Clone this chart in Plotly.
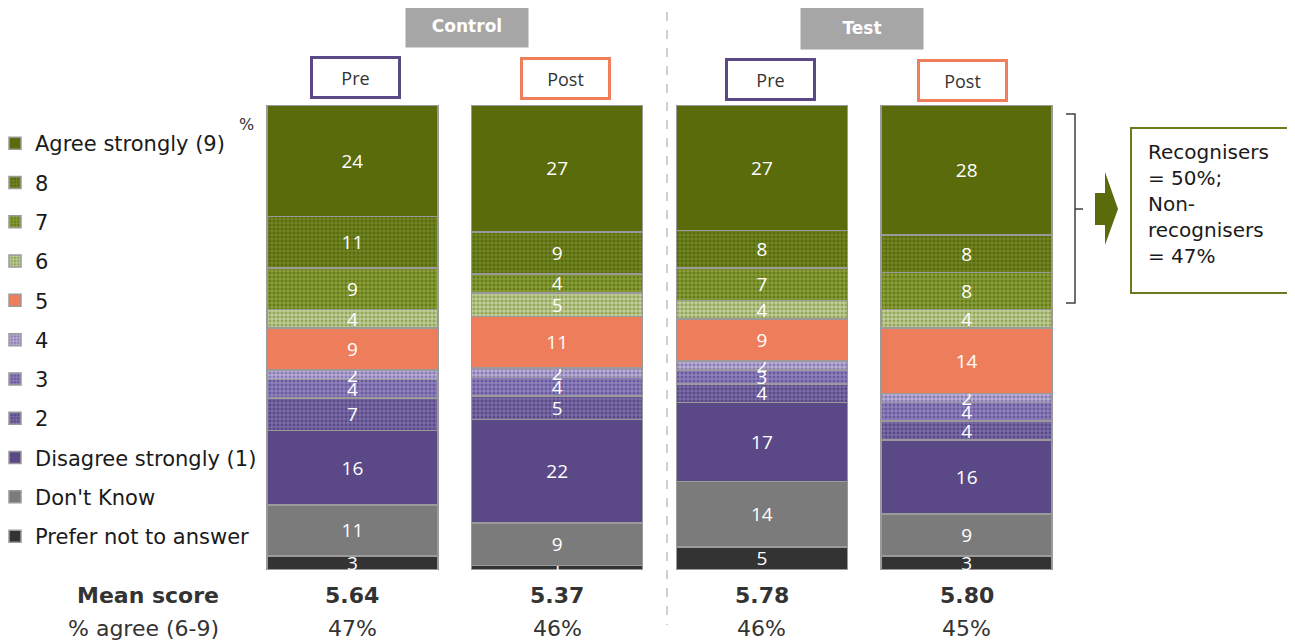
import plotly.graph_objects as go

# categories, bottom of the stack first
answers = ["Prefer not to answer", "Don't Know", "Disagree strongly (1)", "2", "3", "4",
           "5", "6", "7", "8", "Agree strongly (9)"]
groups = ["Control Pre", "Control Post", "Test Pre", "Test Post"]

control_pre = [3, 11, 16, 7, 4, 2, 9, 4, 9, 11, 24]
control_post = [1, 9, 22, 5, 4, 2, 11, 5, 4, 9, 27]
test_pre = [5, 14, 17, 4, 3, 2, 9, 4, 7, 8, 27]
test_post = [3, 9, 16, 4, 4, 2, 14, 4, 8, 8, 28]

mean_scores = ["5.64", "5.37", "5.78", "5.80"]
pct_agree = ["47%", "46%", "46%", "45%"]
stage_labels = ["Pre", "Post", "Pre", "Post"]
arm_labels = ["Control", "Test"]
callout = "Recognisers<br>= 50%;<br>Non-<br>recognisers<br>= 47%"

# (base colour, grid colour or None)
styles = [
    ("#333333", None),
    ("#7b7b7b", None),
    ("#5b4886", None),
    ("#5a4a8a", "#8f82b8"),
    ("#6a5a9e", "#a597cc"),
    ("#8a7cb4", "#d4cde8"),
    ("#ee7d5b", None),
    ("#93a65a", "#dbe4bf"),
    ("#667c17", "#9db24f"),
    ("#586b0b", "#7f9232"),
    ("#596b0b", None),
]

# the page puts the figure 8px in from the top-left corner
W, H, OFF = 1295, 640, 8
L, R, T, B = 242, 234, 97, 78


def px(xs):
    return (xs - OFF - L) / (W - L - R)


def py(ys):
    return (H - B - (ys - OFF)) / (H - T - B)


series = list(zip(control_pre, control_post, test_pre, test_post))
fig = go.Figure()
for k, name in enumerate(answers):
    vals = [series[k][g] for g in range(4)]
    base, grid = styles[k]
    marker = dict(color=base, line=dict(color="#9a9a9a", width=1.5))
    if grid:
        marker["pattern"] = dict(shape="+", size=4, solidity=0.35,
                                 fgcolor=grid, bgcolor=base, fillmode="replace")
    fig.add_trace(go.Bar(
        x=list(range(4)), y=vals, name=name, legendgroup=name,
        legendrank=len(answers) - k,
        marker=marker, text=[str(v) for v in vals], texttemplate="%{text}",
        textposition="inside", insidetextanchor="middle", textangle=0,
        textfont=dict(color="white", family="Open Sans", size=19),
        hoverinfo="skip", cliponaxis=False,
    ))

ann = []
ctr = dict(xanchor="center", yanchor="middle", showarrow=False)
# arm headers
for lbl, cx, cy in zip(arm_labels, [467, 862], [26, 28]):
    ann.append(dict(x=px(cx), y=py(cy), xref="paper", yref="paper", text="<b>%s</b>" % lbl,
                    bgcolor="#a6a6a6", width=122, height=42, borderpad=0,
                    font=dict(family="DejaVu Sans", size=17, color="white"), **ctr))
# pre / post boxes
for lbl, cx, cy in zip(stage_labels, [355.5, 565.5, 770.5, 962.5], [77.5, 78.5, 79, 80]):
    col = "#5b4886" if lbl == "Pre" else "#ef7f5c"
    ann.append(dict(x=px(cx), y=py(cy), xref="paper", yref="paper", text=lbl,
                    bgcolor="white", bordercolor=col, borderwidth=3,
                    borderpad=1, width=83, height=35,
                    font=dict(family="Open Sans", size=18, color="#333333"), **ctr))
# bottom rows
ann.append(dict(x=px(221), y=py(595), xref="paper", yref="paper", xanchor="right",
                yanchor="middle", text="<b>Mean score</b>", showarrow=False,
                font=dict(family="DejaVu Sans", size=22, color="#333333")))
ann.append(dict(x=px(221), y=py(628), xref="paper", yref="paper", xanchor="right",
                yanchor="middle", text="% agree (6-9)", showarrow=False,
                font=dict(family="DejaVu Sans", size=22, color="#333333")))
for i in range(4):
    ann.append(dict(x=i, y=py(595), xref="x", yref="paper", text="<b>%s</b>" % mean_scores[i],
                    font=dict(family="DejaVu Sans", size=22, color="#333333"), **ctr))
    ann.append(dict(x=i, y=py(628), xref="x", yref="paper", text=pct_agree[i],
                    font=dict(family="DejaVu Sans", size=22, color="#333333"), **ctr))
# percent sign
ann.append(dict(x=px(246), y=py(125), xref="paper", yref="paper", text="%",
                font=dict(family="DejaVu Sans", size=16, color="#333333"), **ctr))
# callout text
ann.append(dict(x=px(1146), y=py(138), xref="paper", yref="paper", xanchor="left", yanchor="top",
                text=callout, showarrow=False, align="left",
                font=dict(family="DejaVu Sans", size=20, color="#1a1a1a")))

shapes = [
    dict(type="line", xref="paper", yref="paper", x0=px(667), x1=px(667), y0=py(12), y1=py(625),
         line=dict(color="#a0a0a0", width=1, dash="dash")),
    dict(type="path", xref="paper", yref="paper",
         path="M%f,%f L%f,%f L%f,%f L%f,%f M%f,%f L%f,%f" % (
             px(1066), py(114), px(1075), py(114), px(1075), py(303), px(1066), py(303),
             px(1075), py(209), px(1083), py(209)),
         line=dict(color="#404040", width=1.5)),
    dict(type="path", xref="paper", yref="paper",
         path="M%f,%f L%f,%f L%f,%f L%f,%f L%f,%f L%f,%f L%f,%f Z" % (
             px(1095), py(193), px(1105), py(193), px(1105), py(172), px(1118), py(209),
             px(1105), py(245), px(1105), py(225), px(1095), py(225)),
         fillcolor="#596b0b", line=dict(width=0)),
    dict(type="rect", xref="paper", yref="paper", x0=px(1131), x1=px(1290), y0=py(128), y1=py(293),
         line=dict(color="#6b7a1e", width=2), fillcolor="white"),
]

fig.update_layout(
    width=W, height=H, margin=dict(l=L, r=R, t=T, b=B, autoexpand=False),
    barmode="stack", barnorm="percent", bargap=0.165,
    plot_bgcolor="white", paper_bgcolor="white",
    xaxis=dict(range=[-0.5, 3.5], visible=False),
    yaxis=dict(range=[0, 100], visible=False),
    uniformtext=dict(minsize=19, mode="show"),
    showlegend=True,
    legend=dict(x=px(-5), y=py(123), xanchor="left", yanchor="top",
                traceorder="grouped", tracegroupgap=9,
                font=dict(family="DejaVu Sans", size=21, color="#1a1a1a"),
                bgcolor="rgba(0,0,0,0)"),
    annotations=ann, shapes=shapes,
)

fig.write_html("out.html")
